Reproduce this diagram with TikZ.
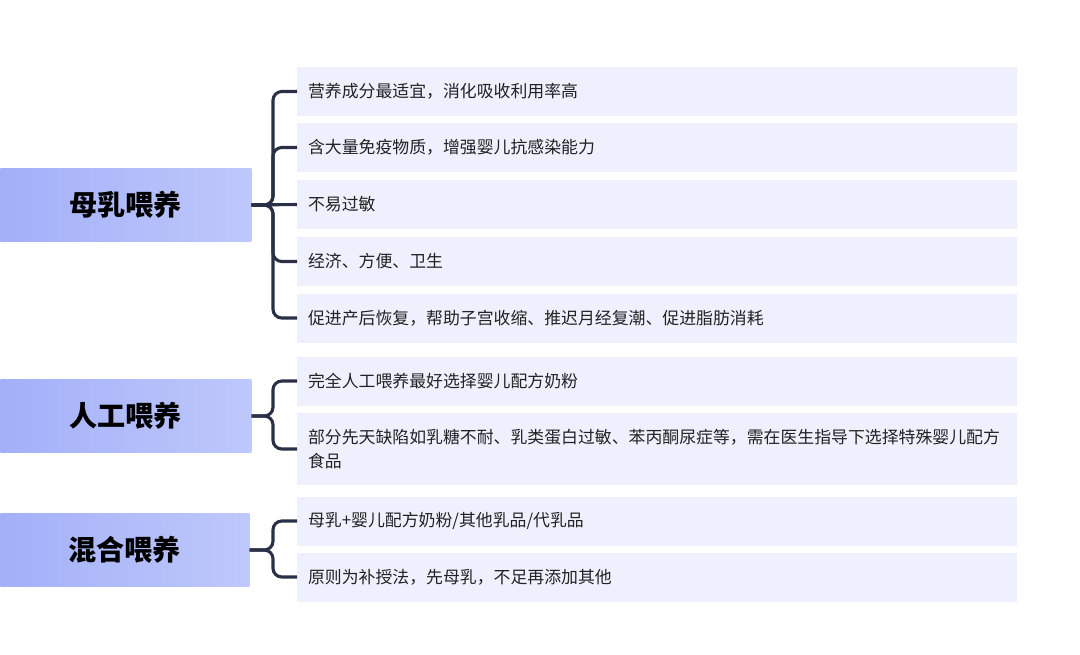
\documentclass[tikz,border=0pt]{standalone}
\usepackage{fontspec}
\setmainfont{Noto Sans CJK SC}
\usepackage{xcolor}
\usepackage{tikz}

\definecolor{catleft}{HTML}{A3B0F8}
\definecolor{catright}{HTML}{BEC8FB}
\definecolor{itemfill}{HTML}{EEF1FD}
\definecolor{bracketline}{HTML}{2A3147}
\definecolor{itemtext}{HTML}{222222}

\tikzset{
  catbox/.style={rectangle, anchor=west, minimum width=6.275cm, minimum height=1.825cm, inner sep=0pt,
    left color=catleft, right color=catright, text=black, font=\fontsize{20}{24}\selectfont\bfseries},
  itembox/.style={rectangle, anchor=west, fill=itemfill, minimum width=18cm, minimum height=1.225cm,
    text width=17.46cm, inner xsep=0.27cm, inner ysep=0pt, align=left, text=itemtext,
    font=\fontsize{12}{16.4}\selectfont},
  bracket/.style={draw=bracketline, line width=2.2pt, rounded corners=0.22cm}
}

\begin{document}
\begin{tikzpicture}[x=0.025cm, y=-0.025cm]
    \useasboundingbox (0,0) rectangle (1080,654);

    % --- 母乳喂养 ---
    \node[catbox] (mom) at (0,205) {母乳喂养};
    \foreach \name/\yy/\txt in {m1/91.5/{营养成分最适宜，消化吸收利用率高},
                                m2/147.5/{含大量免疫物质，增强婴儿抗感染能力},
                                m3/204.5/{不易过敏},
                                m4/261.5/{经济、方便、卫生},
                                m5/318/{促进产后恢复，帮助子宫收缩、推迟月经复潮、促进脂肪消耗}} {
        \node[itembox] (\name) at (297,\yy) {\txt};
    }
    \coordinate (jm) at (273,205);
    \foreach \name in {m1,m2,m4,m5} {
        \draw[bracket] (\name.west) -| (jm) -- (mom.east);
    }
    \draw[bracket] (mom.east) -- (m3.west);

    % --- 人工喂养 ---
    \node[catbox] (art) at (0,416) {人工喂养};
    \node[itembox] (a1) at (297,381) {完全人工喂养最好选择婴儿配方奶粉};
    \node[itembox, minimum height=1.8cm] (a2) at (297,449)
        {部分先天缺陷如乳糖不耐、乳类蛋白过敏、苯丙酮尿症等，需在医生指导下选择特殊婴儿配方\\食品};
    \coordinate (ja) at (273,416);
    \foreach \name in {a1,a2} {
        \draw[bracket] (\name.west) -| (ja) -- (art.east);
    }

    % --- 混合喂养 ---
    \node[catbox, minimum width=6.225cm] (mix) at (0,550) {混合喂养};
    \node[itembox] (x1) at (297,521) {母乳+婴儿配方奶粉/其他乳品/代乳品};
    \node[itembox] (x2) at (297,577) {原则为补授法，先母乳，不足再添加其他};
    \coordinate (jx) at (273,550);
    \foreach \name in {x1,x2} {
        \draw[bracket] (\name.west) -| (jx) -- (mix.east);
    }
\end{tikzpicture}
\end{document}
